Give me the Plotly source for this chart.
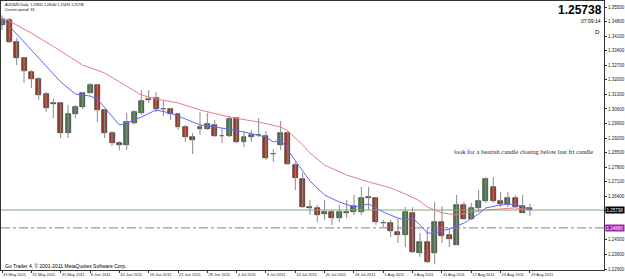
import plotly.graph_objects as go

# ---------------- data ----------------
opens = [1.3462, 1.3488, 1.3382, 1.3305, 1.3238, 1.3204, 1.3132, 1.3089, 1.3089, 1.2944,
         1.3036, 1.3069, 1.3137, 1.3175, 1.3055, 1.2944, 1.2896, 1.2887, 1.2992, 1.3040,
         1.3103, 1.3113, 1.3060, 1.3060, 1.3036, 1.2973, 1.2925, 1.2973, 1.2963, 1.2983,
         1.2930, 1.2930, 1.3016, 1.2901, 1.2925, 1.2935, 1.2930, 1.2843, 1.2886, 1.2944,
         1.2790, 1.2723, 1.2588, 1.2584, 1.2555, 1.2564, 1.2535, 1.2564, 1.2564, 1.2564,
         1.2632, 1.2632, 1.2512, 1.2511, 1.2468, 1.2454, 1.2559, 1.2367, 1.2420, 1.2367,
         1.2516, 1.2454, 1.2406, 1.2598, 1.2531, 1.2584, 1.2617, 1.2685, 1.2617, 1.2603,
         1.2632, 1.2593, 1.25831]
highs = [1.3510, 1.3497, 1.3401, 1.3310, 1.3247, 1.3214, 1.3141, 1.3108, 1.3092, 1.3079,
         1.3079, 1.3141, 1.3185, 1.3180, 1.3060, 1.2954, 1.2905, 1.3040, 1.3055, 1.3151,
         1.3151, 1.3141, 1.3103, 1.3065, 1.3040, 1.2983, 1.2944, 1.3045, 1.3040, 1.3007,
         1.2968, 1.3026, 1.3021, 1.2954, 1.2959, 1.3016, 1.2954, 1.2867, 1.3002, 1.2954,
         1.2805, 1.2752, 1.2622, 1.2598, 1.2622, 1.2574, 1.2598, 1.2622, 1.2646, 1.2685,
         1.2685, 1.2637, 1.2526, 1.2526, 1.2535, 1.2588, 1.2588, 1.2463, 1.2487, 1.2612,
         1.2593, 1.2487, 1.2646, 1.2612, 1.2608, 1.2670, 1.2733, 1.2733, 1.2660, 1.2660,
         1.2646, 1.2646, 1.26040]
lows = [1.3440, 1.3377, 1.3271, 1.3185, 1.3161, 1.3103, 1.3045, 1.3016, 1.2920, 1.2920,
        1.3016, 1.3060, 1.3135, 1.2997, 1.2920, 1.2882, 1.2862, 1.2862, 1.2983, 1.3031,
        1.3089, 1.3045, 1.3026, 1.3007, 1.2959, 1.2901, 1.2843, 1.2935, 1.2959, 1.2925,
        1.2896, 1.2925, 1.2896, 1.2877, 1.2901, 1.2925, 1.2815, 1.2805, 1.2862, 1.2790,
        1.2670, 1.2584, 1.2550, 1.2516, 1.2526, 1.2502, 1.2516, 1.2535, 1.2550, 1.2550,
        1.2574, 1.2502, 1.2492, 1.2444, 1.2415, 1.2396, 1.2367, 1.2348, 1.2319, 1.2314,
        1.2415, 1.2396, 1.2406, 1.2526, 1.2526, 1.2564, 1.2608, 1.2608, 1.2588, 1.2588,
        1.2584, 1.2560, 1.25435]
closes = [1.3490, 1.3382, 1.3305, 1.3242, 1.3204, 1.3127, 1.3065, 1.3085, 1.2944, 1.3036,
          1.3069, 1.3137, 1.3175, 1.3055, 1.2944, 1.2896, 1.2887, 1.2997, 1.3045, 1.3098,
          1.3108, 1.3060, 1.3062, 1.3036, 1.2973, 1.2925, 1.2911, 1.2963, 1.2988, 1.2930,
          1.2932, 1.3012, 1.2901, 1.2925, 1.2935, 1.2937, 1.2824, 1.2845, 1.2944, 1.2795,
          1.2728, 1.2588, 1.2584, 1.2550, 1.2564, 1.2535, 1.2564, 1.2560, 1.2593, 1.2632,
          1.2637, 1.2516, 1.2509, 1.2473, 1.2454, 1.2564, 1.2372, 1.2420, 1.2324, 1.2516,
          1.2449, 1.2434, 1.2598, 1.2531, 1.2584, 1.2617, 1.2723, 1.2617, 1.2603, 1.2632,
          1.2588, 1.2560, 1.25738]

date_labels = ["19 May 2011", "25 May 2011", "31 May 2011", "6 Jun 2011", "10 Jun 2011",
               "16 Jun 2011", "22 Jun 2011", "28 Jun 2011", "4 Jul 2011", "8 Jul 2011",
               "14 Jul 2011", "20 Jul 2011", "26 Jul 2011", "1 Aug 2011", "5 Aug 2011",
               "11 Aug 2011", "17 Aug 2011", "23 Aug 2011", "29 Aug 2011"]
bars_per_label = 4

ma_fast_idx = [0, 2, 4, 6, 8, 10, 12, 13, 14, 16, 17, 19, 21, 23, 25, 27, 30, 33, 36, 37,
               38, 40, 42, 44, 46, 48, 50, 52, 54, 55, 56, 57, 58, 59, 61, 63, 65, 66, 68,
               70, 71, 72]
ma_fast_val = [1.3497, 1.3420, 1.3339, 1.3267, 1.3190, 1.3132, 1.3122, 1.3108, 1.3065, 1.2983,
               1.2992, 1.3021, 1.3055, 1.3040, 1.3012, 1.2983, 1.2968, 1.2949, 1.2925, 1.2901,
               1.2911, 1.2814, 1.2713, 1.2646, 1.2612, 1.2588, 1.2603, 1.2564, 1.2535, 1.2526,
               1.2535, 1.2502, 1.2463, 1.2463, 1.2483, 1.2511, 1.2555, 1.2584, 1.2598, 1.2603,
               1.2588, 1.2579]
ma_slow_idx = [0, 4, 8, 11, 14, 16, 19, 21, 24, 27, 31, 35, 38, 39, 41, 42, 44, 47, 50, 53,
               55, 57, 58, 60, 62, 64, 66, 68, 70, 72]
ma_slow_val = [1.3502, 1.3425, 1.3339, 1.3271, 1.3233, 1.3190, 1.3127, 1.3108, 1.3089, 1.3055,
               1.3021, 1.2997, 1.2973, 1.2954, 1.2887, 1.2848, 1.2790, 1.2742, 1.2709, 1.2680,
               1.2651, 1.2617, 1.2588, 1.2560, 1.2550, 1.2564, 1.2574, 1.2579, 1.2584, 1.2574]

bid_price = 1.25738
hline_price = 1.2488
ytick_vals = [1.229, 1.236, 1.243, 1.250, 1.257, 1.264, 1.271, 1.278, 1.285, 1.292,
              1.299, 1.306, 1.313, 1.320, 1.327, 1.334, 1.341, 1.348, 1.355]

title_text = "AUDNZD,Daily  1.25831 1.26040 1.25435 1.25738"
spread_text = "Current spread: 33"
note_text = "look for a bearish candle closing below last fri candle"
copyright_text = "Go Trader 4, \u00a9 2001-2011 MetaQuotes Software Corp."
clock_text = "07:09:14"
period_text = "D"

# ---------------- figure ----------------
n = len(closes)
idx = list(range(n))
BULL = "#4d7b4d"
BEAR = "#a33c27"

fig = go.Figure()

# wicks
wx, wy = [], []
for i in idx:
    wx += [i, i, None]
    wy += [lows[i], highs[i], None]
fig.add_trace(go.Scatter(x=wx, y=wy, mode="lines", line=dict(color="#8a8a8a", width=1),
                         hoverinfo="skip", showlegend=False))

# bodies
base = [min(o, c) for o, c in zip(opens, closes)]
height = [max(abs(c - o), 0.00002) for o, c in zip(opens, closes)]
colors = [BULL if c >= o else BEAR for o, c in zip(opens, closes)]
fig.add_trace(go.Bar(x=idx, y=height, base=base, width=0.68,
                     marker=dict(color=colors, line=dict(color="#222222", width=0.6)),
                     showlegend=False, hoverinfo="skip"))

# moving averages
fig.add_trace(go.Scatter(x=ma_slow_idx, y=ma_slow_val, mode="lines",
                         line=dict(color="#f07a86", width=1), showlegend=False))
fig.add_trace(go.Scatter(x=ma_fast_idx, y=ma_fast_val, mode="lines",
                         line=dict(color="#6464ff", width=1), showlegend=False))

# horizontal lines
fig.add_hline(y=bid_price, line=dict(color="#78a878", width=1))
fig.add_hline(y=hline_price, line=dict(color="#b85ac8", width=1, dash="dashdot"))

# tick labels hidden behind the price boxes in the reference
ytext = ["" if abs(v - bid_price) < 0.0035 or abs(v - hline_price) < 0.0035 else "%.5f" % v
         for v in ytick_vals]
fig.update_layout(
    width=625, height=279,
    margin=dict(l=1, r=21, t=1, b=9),
    paper_bgcolor="white", plot_bgcolor="white",
    bargap=0,
    showlegend=False,
    xaxis=dict(range=[-0.14, 82.1], showgrid=False, zeroline=False, automargin=False,
               tickvals=[i * bars_per_label for i in range(len(date_labels))],
               ticktext=date_labels, ticks="outside", ticklen=2, tickcolor="#333",
               ticklabelposition="outside right", tickangle=0,
               tickfont=dict(family="Liberation Sans", size=4, color="#222"),
               showline=True, linecolor="#333", linewidth=1, mirror=True),
    yaxis=dict(range=[1.22853, 1.35792], side="right", showgrid=False, zeroline=False,
               automargin=False,
               tickvals=ytick_vals, ticktext=ytext, ticks="outside", ticklen=2,
               tickcolor="#333",
               tickfont=dict(family="Liberation Sans", size=4.5, color="#222"),
               showline=True, linecolor="#333", linewidth=1, mirror=True),
)

ann = [
    dict(text=title_text, x=0.003, y=0.985, xref="paper", yref="paper", xanchor="left",
         yanchor="middle", showarrow=False, font=dict(family="Liberation Sans", size=3.5, color="#000")),
    dict(text=spread_text, x=0.003, y=0.966, xref="paper", yref="paper", xanchor="left",
         yanchor="middle", showarrow=False, font=dict(family="Liberation Sans", size=3.5, color="#000")),
    dict(text="<b>%.5f</b>" % bid_price, x=0.9995, y=0.968, xref="paper", yref="paper", xanchor="right",
         yanchor="middle", showarrow=False, font=dict(family="Liberation Sans", size=12, color="#000")),
    dict(text=clock_text, x=0.998, y=0.925, xref="paper", yref="paper", xanchor="right",
         yanchor="middle", showarrow=False, font=dict(family="Liberation Sans", size=5, color="#000")),
    dict(text=period_text, x=0.989, y=0.885, xref="paper", yref="paper", xanchor="center",
         yanchor="middle", showarrow=False, font=dict(family="Liberation Sans", size=6, color="#000")),
    dict(text=copyright_text, x=0.003, y=0.016, xref="paper", yref="paper", xanchor="left",
         yanchor="middle", showarrow=False, font=dict(family="Liberation Sans", size=5, color="#000")),
    dict(text=note_text, x=61.4, y=1.2853, xref="x", yref="y", xanchor="left",
         yanchor="middle", showarrow=False, font=dict(family="Liberation Serif", size=6.5, color="#1a1a40")),
    dict(text="%.5f" % bid_price, x=1.002, y=bid_price, xref="paper", yref="y", xanchor="left",
         yanchor="middle", showarrow=False, bgcolor="#000", borderpad=0.5,
         font=dict(family="Liberation Sans", size=4.5, color="#fff")),
    dict(text="%.5f" % hline_price, x=1.002, y=hline_price, xref="paper", yref="y", xanchor="left",
         yanchor="middle", showarrow=False, bgcolor="#a020b0", borderpad=0.5,
         font=dict(family="Liberation Sans", size=4.5, color="#fff")),
]
fig.update_layout(annotations=ann)

fig.write_html("out.html")
